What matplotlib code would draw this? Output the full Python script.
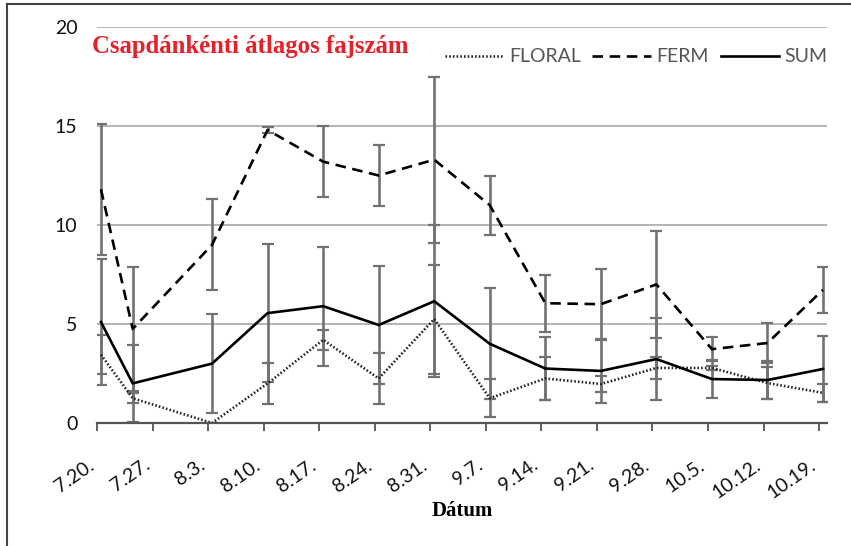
import numpy as np
import matplotlib
matplotlib.use("Agg")
import matplotlib.pyplot as plt
from matplotlib.lines import Line2D

# sampling days counted from 7.20.
days = [0, 4, 14, 21, 28, 35, 42, 49, 56, 63, 70, 77, 84, 91]
tick_labels = ['7.20.', '7.27.', '8.3.', '8.10.', '8.17.', '8.24.', '8.31.',
               '9.7.', '9.14.', '9.21.', '9.28.', '10.5.', '10.12.', '10.19.']

floral = [3.45, 1.25, 0.0, 2.0, 4.2, 2.25, 5.25, 1.25, 2.25, 1.97, 2.78, 2.78, 2.02, 1.52]
floral_err = [0.97, 0.25, 0.0, 1.05, 0.5, 1.3, 2.75, 0.95, 1.1, 0.4, 0.55, 0.1, 0.8, 0.45]
ferm = [11.8, 4.75, 9.0, 14.8, 13.2, 12.5, 13.3, 11.0, 6.05, 6.0, 7.0, 3.73, 4.04, 6.73]
ferm_err = [3.3, 3.15, 2.3, 0.15, 1.8, 1.55, 4.2, 1.5, 1.45, 1.8, 2.7, 0.6, 1.0, 1.15]
total = [5.1, 2.0, 3.0, 5.55, 5.9, 4.95, 6.15, 4.0, 2.75, 2.63, 3.23, 2.22, 2.17, 2.73]
total_err = [3.2, 1.95, 2.5, 3.5, 3.0, 3.0, 3.85, 2.8, 1.6, 1.6, 2.05, 0.95, 0.95, 1.65]

fig = plt.figure(figsize=(8.51, 5.46), dpi=100)
ax = fig.add_axes([97/851, 1-423/546, 730/851, 396/546])

# frame lines of the original picture (left and top only)
fig.add_artist(Line2D([7/851, 7/851], [0, 1-4/546], color='#444444', lw=1.5))
fig.add_artist(Line2D([7/851, 1], [1-4/546, 1-4/546], color='#444444', lw=1.5))

err_col = '#727272'
for vals, errs in [(floral, floral_err), (ferm, ferm_err), (total, total_err)]:
    ax.errorbar(days, vals, yerr=errs, fmt='none', ecolor=err_col,
                elinewidth=1.9, capsize=4, capthick=1.6, zorder=2)

ax.plot(days, floral, color='#222222', lw=1.9, ls=(0, (0.6, 0.8)), label='FLORAL', zorder=3)
ax.plot(days, ferm, color='black', lw=1.9, ls=(0, (4, 2.5)), label='FERM', zorder=3)
ax.plot(days, total, color='black', lw=1.9, ls='-', label='SUM', zorder=3)

ax.set_xlim(-0.5, 91.5)
ax.set_ylim(0, 20)
ax.set_yticks([0, 5, 10, 15, 20])
ax.set_xticks([d * 7 - 0.5 for d in range(len(tick_labels))])
ax.set_xticklabels(tick_labels, rotation=35, ha='right', fontsize=14,
                   family='Lato', color='#111111')
ax.tick_params(axis='x', direction='out', length=6, width=1.3, colors='#555555',
               labelcolor='#111111', pad=18)
ax.tick_params(axis='y', length=0, pad=14, labelsize=14, labelcolor='#111111')
for lab in ax.get_yticklabels():
    lab.set_family('Lato')

ax.grid(axis='y', color='#a8a8a8', lw=1.2)
ax.set_axisbelow(True)
for s in ['left', 'right', 'top']:
    ax.spines[s].set_visible(False)
ax.spines['bottom'].set_color('#555555')
ax.spines['bottom'].set_linewidth(1.6)
ax.spines['bottom'].set_zorder(4)

ax.set_xlabel('Dátum', family='Liberation Serif', fontweight='bold', fontsize=15, labelpad=0)

fig.text(92/851, 1-47/546, 'Csapdánkénti átlagos fajszám', family='Liberation Serif',
         fontweight='bold', fontsize=17.8, color='#e8202a', va='center', ha='left')

leg = ax.legend(loc='upper right', bbox_to_anchor=(1.025, 0.99), ncol=3, frameon=False,
                handlelength=3.0, handletextpad=0.3, columnspacing=0.6,
                prop={'family': 'Lato', 'size': 14})
for t in leg.get_texts():
    t.set_color('#555555')

fig.savefig('out.png', dpi=100)
